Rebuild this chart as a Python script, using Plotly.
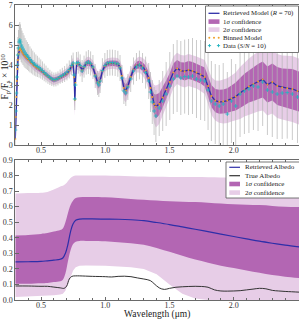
import plotly.graph_objects as go

# ---------------- data: top panel (planet/star contrast) ----------------
wavelength = [
    0.300, 0.304, 0.308, 0.312, 0.316, 0.320, 0.325, 0.330, 0.335, 0.340,
    0.346, 0.352, 0.360, 0.368, 0.376, 0.385, 0.394, 0.404, 0.414, 0.425,
    0.436, 0.448, 0.460, 0.472, 0.485, 0.498, 0.511, 0.525, 0.539, 0.554,
    0.569, 0.584, 0.600, 0.616, 0.632, 0.649, 0.666, 0.684, 0.702, 0.720,
    0.738, 0.750, 0.758, 0.763, 0.768, 0.776, 0.790, 0.805, 0.820, 0.835,
    0.852, 0.869, 0.886, 0.904, 0.922, 0.940, 0.950, 0.960, 0.978, 0.997,
    1.016, 1.036, 1.056, 1.077, 1.098, 1.115, 1.130, 1.145, 1.160, 1.176,
    1.198, 1.220, 1.243, 1.266, 1.290, 1.314, 1.338, 1.352, 1.366, 1.380,
    1.394, 1.420, 1.447, 1.474, 1.502, 1.530, 1.559, 1.588, 1.618, 1.648,
    1.679, 1.710, 1.742, 1.774, 1.800, 1.826, 1.856, 1.887, 1.918, 1.950,
    1.982, 2.015, 2.049, 2.083, 2.118, 2.153, 2.189, 2.225, 2.262, 2.300,
    2.338, 2.377, 2.416, 2.456, 2.496, 2.536,
]
model = [
    0.30, 1.40, 2.40, 3.20, 3.80, 4.25, 4.55, 4.75, 4.82, 4.80,
    4.72, 4.65, 4.57, 4.50, 4.44, 4.38, 4.32, 4.25, 4.18, 4.10,
    4.02, 3.95, 3.90, 3.85, 3.80, 3.74, 3.67, 3.58, 3.50, 3.42,
    3.35, 3.29, 3.25, 3.27, 3.32, 3.38, 3.44, 3.50, 3.58, 3.72,
    3.92, 4.06, 3.40, 2.25, 3.10, 4.05, 4.08, 3.95, 3.74, 3.90,
    4.08, 4.12, 4.05, 3.88, 3.50, 3.15, 3.10, 3.22, 3.70, 3.95,
    4.06, 4.08, 4.09, 4.08, 4.05, 3.90, 3.45, 2.85, 2.72, 2.95,
    3.40, 3.78, 3.98, 4.02, 3.92, 3.72, 3.35, 2.85, 2.40, 2.05,
    1.92, 2.05, 2.38, 2.78, 3.15, 3.62, 3.83, 3.72, 3.68, 3.75,
    3.70, 3.62, 3.52, 3.40, 2.95, 2.45, 2.22, 2.16, 2.17, 2.22,
    2.32, 2.42, 2.60, 2.78, 2.92, 3.05, 3.17, 3.28, 3.02, 3.15,
    2.95, 2.88, 2.84, 2.80, 2.70, 2.60,
]
sigma1 = [
    0.15, 0.20, 0.20, 0.20, 0.20, 0.20, 0.20, 0.20, 0.20, 0.20,
    0.18, 0.17, 0.16, 0.15, 0.15, 0.14, 0.14, 0.13, 0.13, 0.13,
    0.13, 0.12, 0.12, 0.12, 0.12, 0.12, 0.12, 0.12, 0.12, 0.12,
    0.12, 0.12, 0.12, 0.12, 0.12, 0.12, 0.12, 0.13, 0.13, 0.14,
    0.15, 0.16, 0.30, 0.40, 0.30, 0.16, 0.15, 0.15, 0.17, 0.15,
    0.15, 0.15, 0.15, 0.17, 0.22, 0.28, 0.28, 0.25, 0.18, 0.15,
    0.14, 0.14, 0.14, 0.14, 0.15, 0.17, 0.25, 0.30, 0.30, 0.26,
    0.20, 0.18, 0.18, 0.20, 0.22, 0.25, 0.30, 0.35, 0.40, 0.50,
    0.60, 0.55, 0.50, 0.45, 0.45, 0.45, 0.42, 0.42, 0.45, 0.45,
    0.45, 0.45, 0.45, 0.48, 0.50, 0.55, 0.58, 0.60, 0.60, 0.62,
    0.65, 0.70, 0.75, 0.78, 0.80, 0.85, 0.88, 0.90, 0.90, 0.92,
    0.95, 0.95, 0.97, 1.00, 1.00, 1.00,
]
sigma2 = [
    0.30, 0.40, 0.40, 0.40, 0.40, 0.40, 0.40, 0.40, 0.40, 0.38,
    0.36, 0.34, 0.32, 0.30, 0.30, 0.28, 0.28, 0.27, 0.26, 0.26,
    0.25, 0.25, 0.25, 0.25, 0.25, 0.25, 0.25, 0.25, 0.25, 0.25,
    0.25, 0.25, 0.25, 0.25, 0.25, 0.25, 0.25, 0.26, 0.27, 0.28,
    0.30, 0.32, 0.60, 0.80, 0.60, 0.32, 0.30, 0.30, 0.34, 0.30,
    0.30, 0.30, 0.30, 0.35, 0.45, 0.55, 0.58, 0.50, 0.36, 0.30,
    0.28, 0.28, 0.28, 0.28, 0.30, 0.34, 0.50, 0.60, 0.60, 0.52,
    0.40, 0.36, 0.36, 0.40, 0.44, 0.50, 0.60, 0.70, 0.80, 0.95,
    1.05, 1.00, 0.90, 0.82, 0.80, 0.80, 0.78, 0.78, 0.80, 0.80,
    0.80, 0.80, 0.82, 0.85, 0.90, 0.95, 1.00, 1.05, 1.10, 1.12,
    1.15, 1.20, 1.30, 1.35, 1.40, 1.45, 1.50, 1.55, 1.55, 1.58,
    1.60, 1.60, 1.62, 1.65, 1.65, 1.65,
]
data = [
    0.75, 1.70, 2.60, 3.40, 4.00, 4.50, 4.85, 5.15, 5.25, 5.15,
    5.00, 4.90, 4.80, 4.70, 4.60, 4.52, 4.45, 4.37, 4.28, 4.20,
    4.12, 4.05, 3.98, 3.93, 3.87, 3.80, 3.72, 3.63, 3.55, 3.46,
    3.38, 3.31, 3.27, 3.28, 3.33, 3.42, 3.48, 3.55, 3.65, 3.78,
    3.98, 4.10, 3.50, 2.30, 3.00, 4.10, 4.12, 3.98, 3.70, 3.92,
    4.10, 4.15, 4.08, 3.90, 3.45, 3.10, 3.00, 3.20, 3.72, 3.98,
    4.10, 4.12, 4.12, 4.10, 4.06, 3.85, 3.35, 2.70, 2.60, 2.90,
    3.30, 3.70, 3.90, 4.00, 3.85, 3.62, 3.20, 2.65, 2.15, 1.70,
    1.45, 1.85, 2.20, 2.55, 2.95, 3.30, 3.45, 3.35, 3.42, 3.40,
    3.45, 3.30, 3.25, 3.20, 2.75, 2.20, 2.05, 1.95, 2.05, 1.55,
    2.20, 1.95, 2.55, 2.70, 2.80, 2.95, 2.90, 3.15, 2.75, 2.65,
    2.55, 2.60, 2.62, 2.55, 2.40, 2.30,
]
data_err = [
    0.90, 0.90, 0.90, 0.90, 0.90, 0.90, 0.90, 0.90, 0.90, 0.88,
    0.85, 0.82, 0.80, 0.78, 0.75, 0.72, 0.70, 0.68, 0.65, 0.62,
    0.60, 0.58, 0.55, 0.53, 0.50, 0.48, 0.46, 0.44, 0.42, 0.40,
    0.38, 0.36, 0.35, 0.35, 0.35, 0.36, 0.38, 0.40, 0.42, 0.45,
    0.50, 0.52, 0.55, 0.55, 0.55, 0.55, 0.55, 0.55, 0.55, 0.55,
    0.58, 0.60, 0.60, 0.60, 0.60, 0.60, 0.60, 0.60, 0.62, 0.62,
    0.65, 0.65, 0.65, 0.65, 0.65, 0.65, 0.65, 0.65, 0.65, 0.65,
    0.65, 0.68, 0.70, 0.72, 0.75, 0.80, 0.90, 1.00, 1.10, 1.20,
    1.30, 1.40, 1.50, 1.60, 1.70, 1.75, 1.80, 1.85, 1.85, 1.90,
    1.90, 1.95, 2.00, 2.00, 2.00, 2.00, 2.00, 2.05, 2.05, 2.10,
    2.10, 2.10, 2.15, 2.15, 2.20, 2.20, 2.20, 2.20, 2.25, 2.25,
    2.25, 2.30, 2.30, 2.30, 2.30, 2.30,
]

# ---------------- data: bottom panel (albedo) ----------------
alb_wl = [0.30, 0.40, 0.50, 0.55, 0.60, 0.65, 0.67, 0.69, 0.71, 0.73,
          0.75, 0.77, 0.80, 0.85, 0.90, 1.00, 1.10, 1.20, 1.30, 1.40,
          1.50, 1.60, 1.70, 1.80, 1.90, 2.00, 2.10, 2.20, 2.30, 2.40, 2.52]
alb_retrieved = [0.245, 0.246, 0.248, 0.252, 0.256, 0.262, 0.270, 0.300, 0.360, 0.440,
                 0.490, 0.512, 0.520, 0.521, 0.521, 0.520, 0.519, 0.516, 0.510, 0.498,
                 0.485, 0.470, 0.455, 0.440, 0.424, 0.408, 0.393, 0.378, 0.365, 0.353, 0.340]
alb_1s_hi = [0.415, 0.418, 0.425, 0.430, 0.440, 0.450, 0.460, 0.500, 0.560, 0.610,
             0.640, 0.655, 0.660, 0.662, 0.662, 0.660, 0.655, 0.650, 0.645, 0.640,
             0.635, 0.632, 0.630, 0.625, 0.620, 0.615, 0.612, 0.610, 0.605, 0.600, 0.598]
alb_1s_lo = [0.105, 0.105, 0.108, 0.110, 0.115, 0.120, 0.130, 0.170, 0.250, 0.320,
             0.360, 0.375, 0.380, 0.380, 0.380, 0.378, 0.372, 0.365, 0.355, 0.335,
             0.310, 0.285, 0.260, 0.240, 0.220, 0.205, 0.190, 0.175, 0.160, 0.150, 0.140]
alb_2s_hi = [0.685, 0.688, 0.690, 0.695, 0.710, 0.730, 0.735, 0.745, 0.765, 0.785,
             0.795, 0.800, 0.800, 0.800, 0.800, 0.800, 0.798, 0.796, 0.794, 0.792,
             0.791, 0.790, 0.790, 0.789, 0.788, 0.788, 0.787, 0.786, 0.786, 0.785, 0.785]
alb_2s_lo = [0.020, 0.022, 0.025, 0.027, 0.030, 0.035, 0.040, 0.060, 0.100, 0.150,
             0.190, 0.210, 0.220, 0.222, 0.222, 0.220, 0.215, 0.210, 0.200, 0.165,
             0.100, 0.040, 0.010, 0.000, 0.000, 0.000, 0.000, 0.000, 0.000, 0.000, 0.000]
true_wl = [0.30, 0.40, 0.50, 0.55, 0.60, 0.65, 0.68, 0.70, 0.72, 0.74,
           0.77, 0.80, 0.90, 1.00, 1.05, 1.10, 1.15, 1.20, 1.25, 1.30,
           1.35, 1.38, 1.42, 1.46, 1.50, 1.55, 1.60, 1.65, 1.70, 1.75,
           1.80, 1.85, 1.90, 1.95, 2.00, 2.05, 2.10, 2.15, 2.20, 2.25,
           2.30, 2.35, 2.40, 2.45, 2.52]
true_albedo = [0.090, 0.090, 0.088, 0.088, 0.083, 0.078, 0.075, 0.090, 0.135, 0.152,
               0.155, 0.155, 0.152, 0.150, 0.148, 0.152, 0.153, 0.150, 0.142, 0.135,
               0.125, 0.105, 0.078, 0.068, 0.075, 0.082, 0.085, 0.087, 0.088, 0.087,
               0.082, 0.065, 0.058, 0.057, 0.058, 0.060, 0.065, 0.070, 0.075, 0.072,
               0.062, 0.058, 0.055, 0.053, 0.050]

x_ticks = [0.5, 1.0, 1.5, 2.0, 2.5]
x_tick_text = ["0.5", "1.0", "1.5", "2.0", "2.5"]

# ---------------- styling ----------------
W, H = 299, 321
FONT = "Liberation Serif"
C_LINE = "#2e2ea8"
C_1S = "#b366b3"
C_2S = "#e7cde7"
C_BIN = "#f0a02a"
C_DATA = "#1fb3c0"
C_ERR = "#b4b4b4"
C_TRUE = "#333333"
C_AX = "#6a6a6a"


def px(x):
    return x / W


def py(y):
    return 1 - y / H


AX_L = 15.3
XR = [0.3, 0.3 + (W - AX_L) / 128.5]

fig = go.Figure()

up2 = [m + s for m, s in zip(model, sigma2)]
lo2 = [m - s for m, s in zip(model, sigma2)]
up1 = [m + s for m, s in zip(model, sigma1)]
lo1 = [m - s for m, s in zip(model, sigma1)]

# top panel
fig.add_trace(go.Scatter(x=wavelength, y=lo2, mode="lines", line=dict(width=0),
                         xaxis="x", yaxis="y", hoverinfo="skip"))
fig.add_trace(go.Scatter(x=wavelength, y=up2, mode="lines", line=dict(width=0),
                         fill="tonexty", fillcolor=C_2S, xaxis="x", yaxis="y", hoverinfo="skip"))
fig.add_trace(go.Scatter(x=wavelength, y=lo1, mode="lines", line=dict(width=0),
                         xaxis="x", yaxis="y", hoverinfo="skip"))
fig.add_trace(go.Scatter(x=wavelength, y=up1, mode="lines", line=dict(width=0),
                         fill="tonexty", fillcolor=C_1S, xaxis="x", yaxis="y", hoverinfo="skip"))
fig.add_trace(go.Scatter(x=wavelength, y=data, mode="markers",
                         marker=dict(size=1, opacity=0),
                         error_y=dict(type="data", array=data_err, color=C_ERR,
                                      thickness=0.7, width=0),
                         xaxis="x", yaxis="y"))
fig.add_trace(go.Scatter(x=wavelength, y=model, mode="lines",
                         line=dict(color=C_LINE, width=1.3), xaxis="x", yaxis="y"))
fig.add_trace(go.Scatter(x=wavelength, y=model, mode="markers",
                         marker=dict(color=C_BIN, size=2.0), xaxis="x", yaxis="y"))
fig.add_trace(go.Scatter(x=wavelength, y=data, mode="markers",
                         marker=dict(symbol="cross-thin", size=2.8, color=C_DATA,
                                     line=dict(color=C_DATA, width=0.8)),
                         xaxis="x", yaxis="y"))

# bottom panel
fig.add_trace(go.Scatter(x=alb_wl, y=alb_2s_lo, mode="lines", line=dict(width=0),
                         xaxis="x2", yaxis="y2"))
fig.add_trace(go.Scatter(x=alb_wl, y=alb_2s_hi, mode="lines", line=dict(width=0, shape="spline"),
                         fill="tonexty", fillcolor=C_2S, xaxis="x2", yaxis="y2"))
fig.add_trace(go.Scatter(x=alb_wl, y=alb_1s_lo, mode="lines", line=dict(width=0, shape="spline"),
                         xaxis="x2", yaxis="y2"))
fig.add_trace(go.Scatter(x=alb_wl, y=alb_1s_hi, mode="lines", line=dict(width=0, shape="spline"),
                         fill="tonexty", fillcolor=C_1S, xaxis="x2", yaxis="y2"))
fig.add_trace(go.Scatter(x=alb_wl, y=alb_retrieved, mode="lines",
                         line=dict(color=C_LINE, width=1.2, shape="spline"),
                         xaxis="x2", yaxis="y2"))
fig.add_trace(go.Scatter(x=true_wl, y=true_albedo, mode="lines",
                         line=dict(color=C_TRUE, width=1.0, shape="spline"),
                         xaxis="x2", yaxis="y2"))

tickfont = dict(family=FONT, size=8, color="#333")
xcommon = dict(range=XR, domain=[px(AX_L), 1.0], showline=True, linecolor=C_AX, linewidth=0.8,
               mirror="ticks", ticks="inside", ticklen=3.5, tickcolor=C_AX, tickwidth=0.8,
               tickvals=x_ticks, ticktext=x_tick_text, tickfont=tickfont,
               showgrid=False, zeroline=False, automargin=False, ticklabelstandoff=-3,
               minor=dict(ticks="inside", ticklen=2, tickcolor=C_AX, tick0=0, dtick=0.1,
                          showgrid=False))
ycommon = dict(showline=True, linecolor=C_AX, linewidth=0.8, ticks="inside", ticklen=3.5,
               tickcolor=C_AX, tickwidth=0.8, tickfont=tickfont, showgrid=False,
               zeroline=False, automargin=False)

fig.update_layout(
    template="none",
    width=W, height=H, margin=dict(l=0, r=0, t=0, b=0, pad=0),
    paper_bgcolor="white", plot_bgcolor="white", showlegend=False,
    xaxis=dict(anchor="y", **xcommon),
    yaxis=dict(anchor="x", domain=[py(145), py(5)], range=[0, 7], dtick=1, **ycommon),
    xaxis2=dict(anchor="y2", **xcommon),
    yaxis2=dict(anchor="x2", domain=[py(300), py(160)], range=[0, 0.9], dtick=0.1,
                tickformat=".1f", **ycommon),
)

shapes = []
annotations = []

# axis labels
annotations.append(dict(xref="paper", yref="paper", x=px(157), y=py(314.5),
                        text="Wavelength (μm)", showarrow=False,
                        font=dict(family=FONT, size=9.5, color="#222"),
                        xanchor="center", yanchor="middle"))
annotations.append(dict(xref="paper", yref="paper", x=px(4.5), y=py(77),
                        text="F<sub>p</sub>/F<sub>s</sub> × 10<sup>10</sup>",
                        textangle=-90, showarrow=False,
                        font=dict(family=FONT, size=9.5, color="#222"),
                        xanchor="center", yanchor="middle"))


def legend_box(x0, y0, x1, y1):
    shapes.append(dict(type="rect", xref="paper", yref="paper", layer="above",
                       x0=px(x0), x1=px(x1), y0=py(y0), y1=py(y1),
                       fillcolor="white", line=dict(color="#555", width=0.8)))


def leg_text(x, y, t, size):
    annotations.append(dict(xref="paper", yref="paper", x=px(x), y=py(y), text=t,
                            showarrow=False, font=dict(family=FONT, size=size, color="#222"),
                            xanchor="left", yanchor="middle", borderpad=0))


def leg_line(x0, x1, y, color, width=1.3):
    shapes.append(dict(type="line", xref="paper", yref="paper", layer="above",
                       x0=px(x0), x1=px(x1), y0=py(y), y1=py(y),
                       line=dict(color=color, width=width)))


def leg_rect(x0, x1, y, color):
    shapes.append(dict(type="rect", xref="paper", yref="paper", layer="above",
                       x0=px(x0), x1=px(x1), y0=py(y + 2.3), y1=py(y - 2.3),
                       fillcolor=color, line=dict(width=0)))


def leg_dot(x, y, color, r=1.0):
    shapes.append(dict(type="circle", xref="paper", yref="paper", layer="above",
                       x0=px(x - r), x1=px(x + r), y0=py(y + r), y1=py(y - r),
                       fillcolor=color, line=dict(width=0)))


def leg_plus(x, y, color, r=1.6):
    leg_line(x - r, x + r, y, color, 0.9)
    shapes.append(dict(type="line", xref="paper", yref="paper", layer="above",
                       x0=px(x), x1=px(x), y0=py(y - r), y1=py(y + r),
                       line=dict(color=color, width=0.9)))


# top legend
TS = 6.8
legend_box(205.5, 6, 298.5, 52.5)
rows = [13.3, 21.6, 29.6, 37.7, 45.6]
gx0, gx1, tx = 208.5, 219.5, 222.0
leg_line(gx0, gx1, rows[0], C_LINE)
leg_text(tx, rows[0], "Retrieved Model (<i>R</i> = 70)", TS)
leg_rect(gx0, gx1, rows[1], C_1S)
leg_text(tx, rows[1], "1<i>σ</i> confidence", TS)
leg_rect(gx0, gx1, rows[2], C_2S)
leg_text(tx, rows[2], "2<i>σ</i> confidence", TS)
for xx in (209.3, 214.0, 218.7):
    leg_dot(xx, rows[3], C_BIN)
leg_text(tx, rows[3], "Binned Model", TS)
for xx in (209.5, 218.5):
    leg_plus(xx, rows[4], C_DATA)
leg_text(tx, rows[4], "Data (<i>S</i>/<i>N</i> = 10)", TS)

# bottom legend
BS = 7.0
legend_box(226, 162, 299.5, 198)
rows_b = [167.3, 175.7, 184.0, 192.6]
bx0, bx1, btx = 229.3, 240.0, 244.0
leg_line(bx0, bx1, rows_b[0], C_LINE, 1.2)
leg_text(btx, rows_b[0], "Retrieved Albedo", BS)
leg_line(bx0, bx1, rows_b[1], C_TRUE, 1.2)
leg_text(btx, rows_b[1], "True Albedo", BS)
leg_rect(bx0, bx1, rows_b[2], C_1S)
leg_text(btx, rows_b[2], "1<i>σ</i> confidence", BS)
leg_rect(bx0, bx1, rows_b[3], C_2S)
leg_text(btx, rows_b[3], "2<i>σ</i> confidence", BS)

fig.update_layout(shapes=shapes, annotations=annotations)
fig.write_html("out.html", config={"displayModeBar": False},
               post_script="document.body.style.margin='0';document.body.style.padding='0';")
